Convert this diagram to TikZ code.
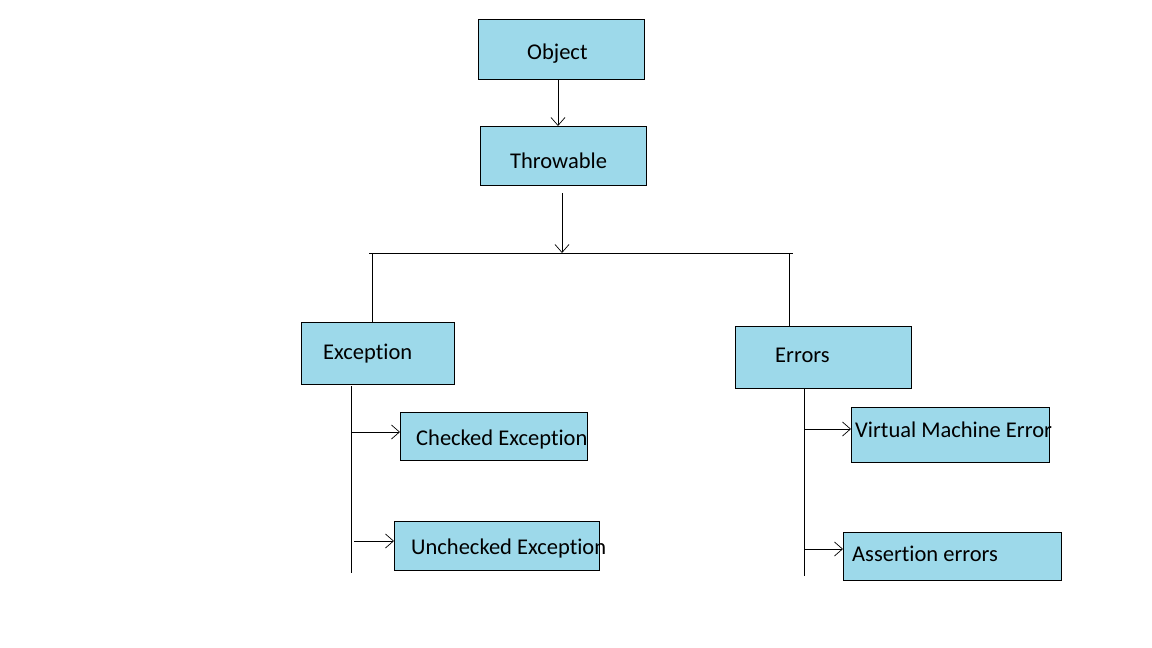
\documentclass[tikz,border=0pt]{standalone}
\usepackage{fontspec}
\setmainfont[Ligatures=NoCommon]{Carlito}
\usetikzlibrary{arrows.meta}
\definecolor{boxblue}{RGB}{157,217,234}
\tikzset{
  box/.style={draw=black, line width=0.9pt, fill=boxblue, inner sep=0pt, anchor=north west},
  lbl/.style={anchor=base west, inner sep=0pt, font=\fontsize{22.5}{26}\selectfont},
  conn/.style={draw=black, line width=1pt},
  arr/.style={conn, -{Straight Barb[length=8pt,width=14pt,line width=0.7pt]}}
}
\begin{document}
\begin{tikzpicture}[x=1pt,y=-1pt]
\useasboundingbox (0,0) rectangle (1152,648);
% boxes
\node[box, minimum width=166pt, minimum height=60pt] (obj) at (478,19) {};
\node[box, minimum width=166pt, minimum height=59pt] (thr) at (480,126) {};
\node[box, minimum width=153pt, minimum height=62pt] (exc) at (301,322) {};
\node[box, minimum width=176pt, minimum height=62pt] (err) at (735,326) {};
\node[box, minimum width=187pt, minimum height=48pt] (chk) at (400,412) {};
\node[box, minimum width=205pt, minimum height=49pt] (unc) at (394,521) {};
\node[box, minimum width=198pt, minimum height=55pt] (vme) at (851,407) {};
\node[box, minimum width=218pt, minimum height=48pt] (ass) at (843,532) {};
% labels
\node[lbl] (objt) at (527,59) {Object};
\node[lbl] (thrt) at (510,168) {Throwable};
\node[lbl] (exct) at (323,359) {Exception};
\node[lbl] (errt) at (775,362) {Errors};
\node[lbl] (chkt) at (416,445) {Checked Exception};
\node[lbl] (unct) at (411,554) {Unchecked Exception};
\node[lbl] (vmet) at (855,437) {Virtual Machine Error};
\node[lbl] (asst) at (852,561) {Assertion errors};
% coordinates
\coordinate (t1) at (562,193);
\coordinate (t2) at (562,253);
\coordinate (hl) at (369,253);
\coordinate (hr) at (793,253);
\coordinate (dl) at (372,253);
\coordinate (dr) at (789,253);
\coordinate (el1) at (351,386);
\coordinate (el2) at (351,573);
\coordinate (er1) at (804,388);
\coordinate (er2) at (804,576);
\coordinate (c1) at (351,432);
\coordinate (c2) at (354,541);
\coordinate (c3) at (804,429);
\coordinate (c4) at (804,549);
% connectors
\draw[arr] (obj.south -| 558,0) -- (thr.north -| 558,0);
\draw[arr] (t1) -- (t2);
\draw[conn] (hl) -- (hr);
\draw[conn] (dl) -- (dl |- exc.north);
\draw[conn] (dr) -- (dr |- err.north);
\draw[conn] (el1) -- (el2);
\draw[conn] (er1) -- (er2);
\draw[arr] (c1) -- (c1 -| chk.west);
\draw[arr] (c2) -- (c2 -| unc.west);
\draw[arr] (c3) -- (c3 -| vme.west);
\draw[arr] (c4) -- (c4 -| ass.west);
\end{tikzpicture}
\end{document}
